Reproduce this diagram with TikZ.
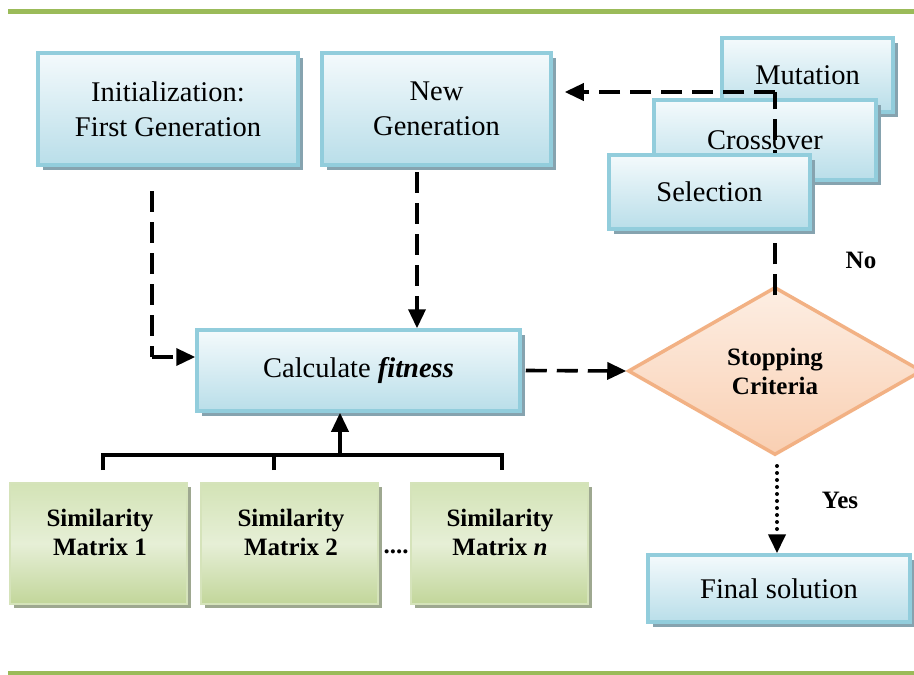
\documentclass[tikz,border=0pt]{standalone}
\usepackage{fontspec}
\setmainfont{Liberation Serif}
\usetikzlibrary{shapes.geometric,arrows.meta,shadows}
\definecolor{gline}{HTML}{9BBB59}
\definecolor{bborder}{HTML}{92CDDC}
\definecolor{btop}{HTML}{F4FAFC}
\definecolor{bbot}{HTML}{B9DEE9}
\definecolor{bshadow}{HTML}{86A3AF}
\definecolor{gborder}{HTML}{D5E3BA}
\definecolor{gtop}{HTML}{D3E3B6}
\definecolor{gmid}{HTML}{E6EFD6}
\definecolor{gbot}{HTML}{C2D69A}
\definecolor{gshadow}{HTML}{9EA890}
\definecolor{dborder}{HTML}{F2B184}
\definecolor{dtop}{HTML}{FDEEE3}
\definecolor{dbot}{HTML}{F9CFB2}
\newcommand{\regfont}{\fontsize{28.5}{35.5}\selectfont}
\newcommand{\boldfont}{\fontsize{25}{29}\selectfont\bfseries}
\begin{document}
\begin{tikzpicture}[x=1pt,y=-1pt,
  bluebox/.style={draw=bborder, line width=3.5pt, top color=btop, bottom color=bbot,
    drop shadow={shadow xshift=5pt, shadow yshift=-5pt, fill=bshadow, opacity=1},
    align=center, font=\regfont, inner sep=0pt},
  greenbox/.style={draw=gborder, line width=2.5pt, top color=gtop, bottom color=gbot, middle color=gmid,
    drop shadow={shadow xshift=4pt, shadow yshift=-4pt, fill=gshadow, opacity=1},
    inner sep=0pt, minimum width=177pt, minimum height=121pt},
  greentext/.style={align=center, font=\boldfont},
  decision/.style={diamond, draw=dborder, line width=3.5pt, top color=dtop, bottom color=dbot,
    minimum width=294pt, minimum height=168pt, inner sep=0pt, align=center, font=\boldfont},
  lbl/.style={font=\boldfont},
  tipstyle/.style={-{Triangle[length=19pt,width=17pt]}},
  dasharrow/.style={line width=3.6pt, dash pattern=on 21pt off 10pt, tipstyle},
  dashline/.style={line width=3.6pt, dash pattern=on 21pt off 10pt},
  dotarrow/.style={line width=4pt, line cap=round, dash pattern=on 0pt off 7pt, tipstyle},
  solidline/.style={line width=3.6pt},
  solidarrow/.style={line width=3.6pt, tipstyle}
]
\useasboundingbox (0,0) rectangle (914,675);
\fill[white] (0,0) rectangle (914,675);
% green rules
\draw[gline, line width=5pt] (8,11) -- (914,11);
\draw[gline, line width=5pt] (8,673) -- (914,673);

% top boxes
\node[bluebox, minimum width=260pt, minimum height=112pt] (init) at (168,109) {Initialization:\\First Generation};
\node[bluebox, minimum width=229pt, minimum height=112pt] (newgen) at (436.5,109) {New\\Generation};
\node[bluebox, minimum width=171pt, minimum height=74pt] (mutation) at (807.5,75) {Mutation};
\node[bluebox, minimum width=222pt, minimum height=80pt] (crossover) at (765,140) {Crossover};

% calculate fitness
\node[bluebox, minimum width=323pt, minimum height=81pt] (calc) at (358.5,370.5) {Calculate \textbf{\textit{fitness}}};

% decision
\node[decision] (stop) at (775,371) {Stopping\\Criteria};

% feedback line (over mutation/crossover, under selection)
\coordinate (corner) at (775,92);
\draw[dashline] ([yshift=-10pt]stop.north) -- (corner);
\draw[dasharrow] (corner) -- ([xshift=12pt]newgen.east |- corner);

\node[bluebox, minimum width=201pt, minimum height=74pt] (selection) at (709.5,192) {Selection};

% final
\node[bluebox, minimum width=262pt, minimum height=67pt] (final) at (779,588.5) {Final solution};

% similarity matrices
\node[greenbox] (sm1) at (98.5,543.5) {};
\node[greenbox] (sm2) at (289.5,543.5) {};
\node[greenbox] (smn) at (499.5,543.5) {};
\node[greentext] (t1) at (100,532) {Similarity\\Matrix 1};
\node[greentext] (t2) at (291,532) {Similarity\\Matrix 2};
\node[greentext] (tn) at (500,532) {Similarity\\Matrix \textit{n}};
\node[font=\boldfont, anchor=base, inner sep=0pt] (dots) at (396,553) {....};

% labels
\node[lbl] (no) at (861,260) {No};
\node[lbl] (yes) at (840,500) {Yes};

% connectors
\coordinate (ia) at (152,191);
\coordinate (ib) at (152,357);
\draw[dashline] (ia) -- (ib);
\draw[dasharrow] (ib) -- (calc.west |- ib);
\coordinate (ng) at (417,172);
\draw[dasharrow] (ng) -- (ng |- calc.north);
\draw[dasharrow] ([xshift=4pt]calc.east) -- (stop.west);
\coordinate (ys) at (777,466);
\draw[dotarrow] (ys) -- (ys |- final.north);

% bus to similarity matrices
\coordinate (b1) at (103,470);
\coordinate (b2) at (274,470);
\coordinate (bn) at (502,470);
\coordinate (bus) at (340,455);
\draw[solidline] (b1) |- (bus) -| (bn);
\draw[solidline] (b2) -- (b2 |- bus);
\draw[solidarrow] (bus) -- (bus |- calc.south);
\end{tikzpicture}
\end{document}
